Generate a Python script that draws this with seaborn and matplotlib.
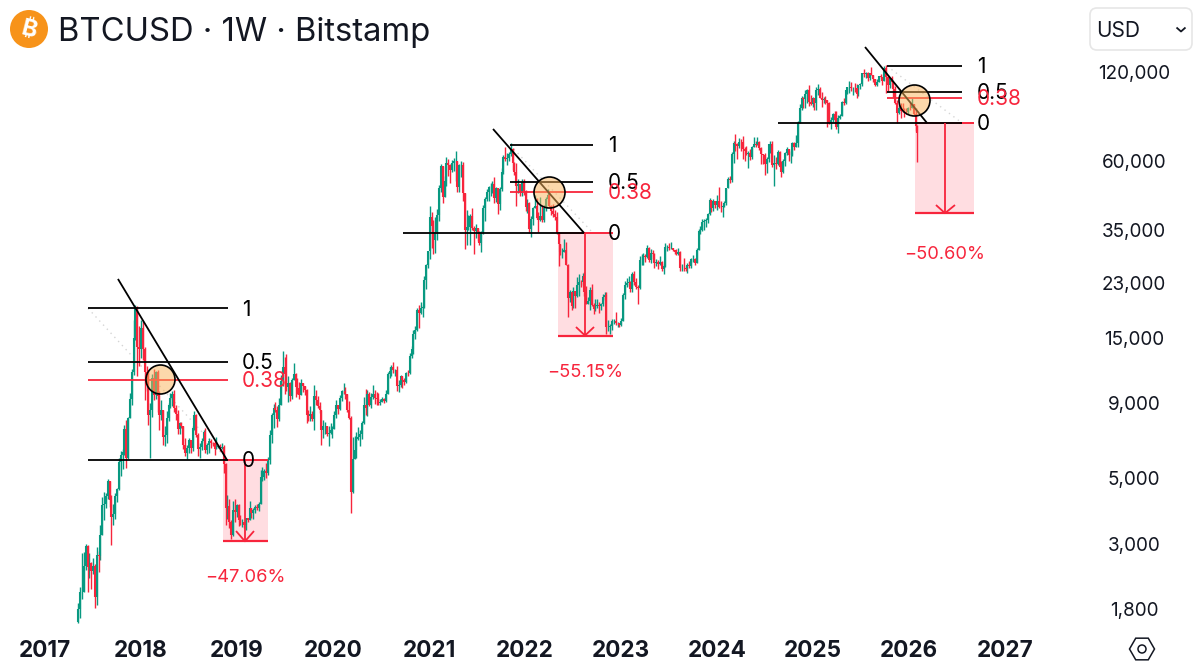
#!/usr/bin/env python3
# BTCUSD weekly candles with three fib / drawdown setups
import numpy as np
import pandas as pd
import matplotlib.pyplot as plt
import seaborn as sns
from matplotlib.patches import Circle, FancyBboxPatch, RegularPolygon

# weekly candles, first week starts 2017-05-08, open = previous close
first_week = "2017-05-08"
first_open = 1630

closes_2017 = [1800, 2050, 2050, 2510, 2950, 2500, 2580, 2430, 2510, 1980, 2750, 2730, 3220, 4060, 4080, 4340, 4910,
               4220, 3700, 3780, 4370, 4600, 5680, 6010, 6130, 7380, 5850, 8000, 9300, 11500, 15000, 19100, 14000, 13800]
highs_2017 = [1880, 2130, 2790, 2800, 2990, 2980, 2780, 2600, 2690, 2550, 2930, 2840, 3480, 4330, 4480, 4450, 4980,
              4700, 4400, 4100, 4470, 4620, 5850, 6180, 6300, 7600, 7900, 8100, 9750, 11800, 17200, 19400, 19300, 16500]
lows_2017 = [1610, 1680, 1950, 2100, 2450, 2050, 2300, 2100, 2370, 1820, 1850, 2400, 2640, 3200, 3600, 3950, 4250,
             4000, 2970, 3470, 3650, 4150, 4550, 5100, 5380, 6000, 5400, 5820, 8000, 8900, 11200, 14800, 11100, 12000]

closes_2018 = [16200, 13700, 11500, 11100, 8200, 8550, 11000, 9600, 11500, 9500, 8200, 8500, 6900,
               7000, 8000, 8850, 9400, 9700, 8700, 8250, 7350, 7700, 7500, 6500, 6100, 6350,
               6750, 6350, 7400, 8200, 7000, 6300, 6400, 6700, 7200, 6250, 6500, 6700, 6600,
               6580, 6300, 6400, 6420, 6350, 6380, 5600, 3950, 4030, 3550, 3220, 3900, 3830, 4050]
highs_2018 = [17200, 17100, 14000, 12000, 11700, 9000, 11300, 11800, 11600, 11700, 9900, 9200, 8500,
              7500, 8450, 9000, 9750, 9900, 9950, 8900, 8500, 7750, 7770, 7500, 6850, 6500,
              6830, 6770, 7500, 8480, 8250, 7150, 6600, 6880, 7300, 7400, 6600, 6850, 6800,
              6650, 6700, 6900, 6510, 6530, 6580, 6500, 5650, 4400, 4250, 3600, 4200, 4250, 4100]
lows_2018 = [12800, 12600, 9200, 9900, 7600, 5850, 8100, 9200, 9300, 8400, 7300, 7900, 6500,
             6450, 6600, 7800, 8700, 8800, 8400, 7900, 7100, 7050, 7400, 6300, 5950, 5800,
             6100, 6100, 6200, 7300, 6900, 5950, 5880, 6250, 6650, 6100, 6050, 6100, 6350,
             6450, 6000, 6350, 6350, 6200, 6300, 5200, 3480, 3650, 3400, 3120, 3190, 3550, 3700]

closes_2019 = [3620, 3550, 3550, 3460, 3660, 3620, 3950, 3820, 3900, 4000, 3980, 4090,
               5050, 5060, 5280, 5200, 5750, 7000, 8200, 8700, 8550, 7950, 8900, 10700, 11900,
               11300, 10200, 10500, 9500, 10800, 11300, 10200, 10100, 9600, 10500, 10300, 10000, 8200, 8150,
               8300, 7950, 9550, 9200, 8800, 8500, 7300, 7500, 7500, 7100, 7150, 7300, 7350]
highs_2019 = [4080, 3750, 3650, 3550, 3680, 3680, 4180, 3890, 3960, 4050, 4090, 4140,
              5340, 5470, 5390, 5650, 5900, 7300, 8350, 8950, 9100, 8800, 9400, 11200, 13550,
              12900, 13200, 11100, 10650, 11000, 12300, 11400, 10950, 10600, 10900, 10450, 10300, 10050, 8500,
              8800, 8450, 10350, 9950, 9550, 9100, 8450, 7880, 7750, 7500, 7500, 7690, 7500]
lows_2019 = [3450, 3480, 3430, 3380, 3350, 3560, 3600, 3680, 3650, 3800, 3900, 3880,
             4100, 4900, 4950, 5000, 5150, 5600, 6600, 7400, 8400, 7450, 7800, 8900, 10300,
             9700, 9900, 9050, 9150, 9300, 11000, 9450, 9700, 9300, 9600, 9850, 9600, 7700, 7800,
             7800, 7850, 7300, 8850, 8700, 8350, 6500, 6850, 7100, 6950, 6450, 7050, 6850]

closes_2020 = [8180, 8900, 8600, 9350, 9900, 9900, 9670, 8520, 8030, 4500, 5800, 6250, 6800,
               6900, 7100, 7700, 8900, 8700, 9700, 8900, 9450, 9650, 9400, 9300, 9000, 9100,
               9300, 9150, 9700, 11300, 11600, 11900, 11650, 11700, 10300, 10350, 11100, 10750, 10650,
               11380, 11370, 13000, 13750, 15500, 16000, 18700, 18200, 19000, 19150, 23500, 26500, 29500]
highs_2020 = [8470, 9200, 8800, 9590, 9950, 10500, 10250, 9700, 9180, 8170, 6900, 6950, 7200,
              7450, 7300, 7800, 9450, 10050, 9950, 9850, 9750, 10400, 10000, 9800, 9780, 9300,
              9450, 9350, 10000, 11450, 11950, 12100, 12450, 11750, 12050, 10800, 11200, 10950, 11000,
              11500, 11700, 13350, 14100, 15950, 16500, 18900, 19400, 19900, 19400, 24250, 26800, 29600]
lows_2020 = [7670, 8000, 8250, 8540, 9130, 9700, 9300, 8400, 7950, 3800, 4450, 5800, 5850,
             6750, 6450, 6800, 7650, 8200, 8150, 8800, 8650, 9300, 8950, 8900, 8850, 8900,
             9050, 9000, 9050, 9650, 11000, 11150, 11400, 11150, 9900, 9850, 10200, 10150, 10350,
             10530, 11150, 11300, 12850, 13200, 14850, 15800, 16200, 18100, 17600, 19000, 21900, 25900]

closes_2021 = [38500, 36000, 32200, 34300, 39200, 48600, 57500, 45200, 51000, 59000, 58000, 55800, 59000,
               60000, 60000, 49000, 57800, 58200, 46500, 34800, 35600, 35800, 39000, 35500, 34500, 35300,
               34200, 31500, 34200, 41500, 44600, 47000, 48800, 48900, 50000, 44900, 48300, 42700, 48200,
               54900, 61600, 61000, 61300, 63300, 65500, 58700, 54700, 49300, 50100, 46700, 50800, 47300]
highs_2021 = [42000, 40100, 37800, 38500, 41000, 49700, 58300, 57000, 53000, 61700, 61000, 58400, 60200,
              61300, 64900, 57000, 58500, 59600, 59500, 46700, 40900, 39300, 39400, 41300, 36000, 36600,
              35100, 34600, 34500, 42400, 45300, 48100, 49300, 50500, 51000, 52900, 48800, 45300, 49000,
              56500, 62900, 67000, 63700, 64300, 69000, 66400, 59400, 59000, 51900, 49500, 51800, 52100]
lows_2021 = [27700, 30300, 28800, 29200, 32300, 37400, 47000, 43000, 45000, 49300, 53300, 50400, 54900,
             55500, 51000, 47000, 47000, 52900, 43800, 30000, 31100, 34800, 31000, 34800, 28800, 32700,
             32100, 31000, 29300, 33900, 37300, 43800, 43900, 45500, 46700, 43000, 43400, 39600, 40800,
             47200, 54100, 59700, 58000, 59800, 62400, 55600, 53500, 42000, 46700, 45500, 45500, 45700]

closes_2022 = [41900, 43100, 35100, 37900, 41500, 42100, 38400, 37700, 38800, 37800, 41300, 44500, 45800,
               42200, 40400, 39500, 38500, 34100, 31300, 29400, 29400, 29900, 26600, 20500, 21500, 19300,
               21600, 20800, 22600, 23300, 23200, 24300, 21500, 19600, 20000, 21800, 19400, 18800, 19300,
               19400, 19300, 19600, 20600, 20900, 16300, 16300, 16400, 17100, 17100, 16800, 16800, 16600]
highs_2022 = [47500, 44500, 43500, 38900, 41900, 45800, 44700, 40300, 45300, 42500, 42300, 45100, 48200,
              47100, 42400, 42900, 40800, 40000, 34200, 31300, 30200, 32400, 31700, 26800, 21800, 21500,
              22400, 21000, 24200, 24700, 23500, 25000, 25200, 22500, 20600, 22400, 22800, 19700, 20300,
              20400, 19900, 19700, 21100, 21400, 21500, 17200, 16700, 17400, 17400, 18400, 17000, 16900]
lows_2022 = [40600, 39700, 34000, 32900, 36200, 41700, 38000, 34300, 37500, 37100, 37200, 40500, 44900,
             41900, 39200, 38600, 37700, 33700, 26300, 28600, 28000, 29300, 26600, 17600, 19900, 18700,
             19000, 18900, 20700, 20800, 22400, 22700, 20800, 19500, 19500, 18600, 19300, 18100, 18500,
             19000, 18200, 18700, 19300, 20100, 15500, 15800, 15500, 16000, 16700, 16600, 16300, 16300]

closes_2023 = [17100, 20900, 22700, 23000, 23300, 21900, 24700, 23200, 22400, 22100, 27500, 27500, 28500,
               28300, 30300, 27600, 29200, 28900, 26900, 27100, 26800, 27100, 25800, 26300, 30500, 30600,
               30200, 30300, 29800, 29400, 29000, 29300, 26000, 26000, 25900, 25800, 26600, 26300, 27900,
               27900, 27000, 29900, 34500, 35000, 37000, 37400, 37800, 39400, 44000, 41400, 43700, 42300]
highs_2023 = [17500, 21300, 23400, 23900, 24300, 23400, 25200, 25300, 23900, 22600, 28500, 28900, 29200,
              28800, 31000, 30500, 30000, 29800, 29100, 27700, 27500, 28400, 27400, 26800, 31400, 31000,
              31500, 31800, 30300, 29900, 30000, 30200, 29700, 26800, 28100, 26400, 27000, 27400, 28000,
              28600, 28000, 30300, 35100, 35900, 38000, 37900, 38400, 39800, 44700, 43400, 44300, 43800]
lows_2023 = [16500, 17100, 20400, 22300, 22500, 21400, 21500, 22700, 21900, 19500, 21900, 26600, 26500,
             27200, 28000, 27100, 26900, 27700, 25900, 26300, 25800, 26500, 25400, 24800, 26200, 29500,
             29800, 30000, 29500, 29000, 28600, 28700, 25400, 25300, 25300, 25400, 24900, 26000, 26000,
             27200, 26500, 26900, 29800, 33900, 34600, 35000, 35700, 36900, 39100, 40200, 40500, 41400]

closes_2024 = [43900, 41700, 41600, 42000, 43000, 48300, 52100, 51700, 63100, 68900, 68400, 67200, 69600,
               69400, 65600, 64900, 63400, 63800, 61500, 66900, 68500, 67700, 69600, 66200, 63200, 62800,
               58300, 60800, 68100, 68200, 58100, 58700, 58400, 64200, 57300, 54800, 59900, 63500, 65800, 62800,
               62800, 69000, 67000, 68700, 80500, 90600, 97700, 97200, 101200, 104500, 95200, 93700, 98300]
highs_2024 = [45900, 49000, 43600, 42300, 43900, 48600, 52800, 53000, 64000, 70100, 73800, 68900, 71500,
              71300, 72700, 66800, 67200, 64700, 65500, 67500, 71900, 70000, 71900, 70200, 66900, 63200,
              63800, 61800, 68400, 69800, 70000, 62700, 61800, 65000, 64500, 59800, 60700, 64100, 66500, 65600,
              64500, 69400, 69500, 73600, 81500, 93500, 99800, 98900, 104000, 105200, 108300, 99900, 99000]
lows_2024 = [40700, 41400, 40200, 38500, 41800, 42400, 48400, 50500, 50900, 59000, 64600, 60800, 66400,
             64500, 60700, 59600, 62800, 56500, 60200, 60800, 66600, 66700, 68400, 65100, 58400, 58500,
             53500, 54300, 59400, 63500, 57200, 49100, 56100, 57800, 57100, 52600, 54600, 57500, 62700, 59900,
             58900, 62000, 65000, 66800, 66800, 80300, 89400, 90800, 90500, 94100, 92200, 92500, 91300]

closes_2025 = [94500, 104500, 104800, 97700, 96500, 97500, 96200, 94200, 80800, 82600, 86100, 82400, 78300,
               83700, 85200, 94700, 94300, 104200, 106500, 107000, 105600, 105600, 105500, 100900, 108300, 109200,
               119000, 117900, 119400, 114200, 119300, 117400, 113500, 108400, 111200, 116000, 115300, 112100, 123500,
               115000, 108600, 114500, 110600, 104700, 94300, 86900, 90300, 88400, 88300, 88100, 87700, 90800]
highs_2025 = [95900, 106400, 109300, 106400, 102500, 98800, 99500, 96500, 95000, 84500, 87400, 88500, 88500,
              86000, 86500, 95800, 97900, 104300, 106700, 111900, 110700, 106800, 110500, 108900, 108500, 110500,
              119500, 123200, 120200, 119800, 119400, 124500, 117600, 113400, 113300, 116700, 117900, 113400, 125700,
              126300, 115900, 114700, 116300, 111000, 107500, 96500, 93000, 94100, 94500, 90500, 90500, 91000]
lows_2025 = [89200, 89300, 100400, 97700, 91200, 94100, 93400, 78200, 80000, 76600, 81200, 81600, 77000,
             74500, 83100, 85200, 92900, 93400, 100800, 102000, 103100, 100400, 102700, 98200, 99800, 105100,
             107500, 115700, 114700, 112000, 112600, 116800, 110700, 107300, 107300, 110600, 114400, 108600, 111600,
             102000, 103500, 106200, 106300, 98900, 93100, 80600, 86300, 83800, 87500, 84400, 86400, 86600]

closes_2026 = [90500, 93500, 86500, 78700, 74400]
highs_2026 = [94800, 97900, 93000, 90500, 79000]
lows_2026 = [89300, 92000, 86000, 75700, 59500]

# price axis and years
price_ticks = [1800, 3000, 5000, 9000, 15000, 23000, 35000, 60000, 120000]
year_ticks = list(range(2017, 2028))

# drawdown setups, dates in decimal years
levels_a = [18900, 12420, 10790, 5770]
levels_b = [67800, 50760, 46940, 34070]
levels_c = [125760, 102600, 97930, 80520]
level_names = ["1", "0.5", "0.38", "0"]

GREEN = "#089981"
RED = "#F7253C"
PINK = "#FFDDE1"


def pixel_limits():
    """axis limits so the year and price scales land where they do in the chart"""
    px_per_year = 96.0
    px_per_decade = 294.4
    left, right, top, bottom = 0, 1095, 0, 636
    xlim = (2018 + (left - 141) / px_per_year, 2018 + (right - 141) / px_per_year)
    ylim = (120000 * 10 ** (-(bottom - 72) / px_per_decade), 120000 * 10 ** (-(top - 72) / px_per_decade))
    return (left, right, top, bottom), xlim, ylim


def build_candles():
    closes = np.array(closes_2017 + closes_2018 + closes_2019 + closes_2020 + closes_2021
                      + closes_2022 + closes_2023 + closes_2024 + closes_2025 + closes_2026, dtype=float)
    highs = np.array(highs_2017 + highs_2018 + highs_2019 + highs_2020 + highs_2021
                     + highs_2022 + highs_2023 + highs_2024 + highs_2025 + highs_2026, dtype=float)
    lows = np.array(lows_2017 + lows_2018 + lows_2019 + lows_2020 + lows_2021
                    + lows_2022 + lows_2023 + lows_2024 + lows_2025 + lows_2026, dtype=float)
    opens = np.r_[first_open, closes[:-1]]
    dates = pd.date_range(first_week, periods=len(closes), freq="7D")
    df = pd.DataFrame({
        "week": np.arange(len(closes)),
        "x": dates.year + (dates.dayofyear - 1) / 365.25,
        "open": opens,
        "close": closes,
        "high": np.maximum(highs, np.maximum(opens, closes)),
        "low": np.minimum(lows, np.minimum(opens, closes)),
    })
    df["dir"] = np.where(df["close"] >= df["open"], "up", "down")
    return df


def draw_candles(ax, df):
    palette = {"up": GREEN, "down": RED}
    wicks = df.melt(id_vars=["week", "x", "dir"], value_vars=["low", "high"], value_name="price")
    bodies = df.melt(id_vars=["week", "x", "dir"], value_vars=["open", "close"], value_name="price")
    sns.lineplot(data=wicks, x="x", y="price", units="week", estimator=None, hue="dir", palette=palette,
                 linewidth=1.0, legend=False, ax=ax, zorder=3)
    sns.lineplot(data=bodies, x="x", y="price", units="week", estimator=None, hue="dir", palette=palette,
                 linewidth=1.5, legend=False, ax=ax, zorder=3)


def draw_setup(ax, levels, x0, x1, zero_x1, box, arrow_x, head, bottom, diag, circle, label_x, pct, pct_price, s,
               long_x0=None):
    top1, mid, red, zero = levels
    # pink box under the candles
    ax.fill_between(box, [bottom, bottom], [zero, zero], color=PINK, lw=0, zorder=1)
    # faint dotted diagonal between the first and last level
    ax.plot([x0, x1], [top1, zero], color="#d5d5d5", lw=1.0, ls=(0, (1, 3)), zorder=2)
    for price in (top1, mid):
        ax.plot([x0, x1], [price, price], color="black", lw=1.3, zorder=5)
    ax.plot([x0, x1], [red, red], color=RED, lw=1.3, zorder=5)
    ax.plot(box, [zero, zero], color=RED, lw=1.4, zorder=5)
    ax.plot([long_x0 if long_x0 else x0, zero_x1], [zero, zero], color="black", lw=1.3, zorder=6)
    ax.plot(box, [bottom, bottom], color=RED, lw=1.6, zorder=6)
    # arrow down to the target
    ax.plot([arrow_x, arrow_x], [zero, bottom], color=RED, lw=1.3, zorder=6)
    ax.plot([head[0], arrow_x, head[1]], [head[2], bottom, head[2]], color=RED, lw=1.3, zorder=6)
    # trend line and circle on the 0.38 level
    ax.plot(diag[:2], diag[2:], color="black", lw=1.3, zorder=5)
    ax.scatter([circle[0]], [circle[1]], s=s, facecolor=(0.98, 0.70, 0.35, 0.5), edgecolor="black",
               linewidth=1.2, zorder=7)
    offsets = [-1, -1, -1, -1]
    for price, name, off in zip(levels, level_names, offsets):
        ax.annotate(name, (label_x, price), xytext=(0, off), textcoords="offset points", ha="left", va="center",
                    fontsize=15, color=RED if name == "0.38" else "black", zorder=8)
    ax.text(arrow_x, pct_price, pct, ha="center", va="center", fontsize=13.2, color=RED, zorder=8)


def draw_header(fig):
    ui = fig.add_axes([0, 0, 1, 1], facecolor="none")
    ui.set_xlim(0, 1200)
    ui.set_ylim(672, 0)
    ui.axis("off")
    ui.add_patch(Circle((29, 29), 19, color="#F7931A", lw=0))
    ui.text(29, 30, "\u20bf", color="white", fontsize=17, fontweight="bold", rotation=-14,
            ha="center", va="center", family=["Inter", "Noto Sans", "Roboto", "Open Sans", "DejaVu Sans"])
    ui.text(58, 33, "BTCUSD \u00b7 1W \u00b7 Bitstamp", fontsize=23.6, color="#131722", ha="left", va="center")
    ui.add_patch(FancyBboxPatch((1090, 8), 102, 42, boxstyle="round,pad=0,rounding_size=7",
                                facecolor="white", edgecolor="#e6e6e6", lw=1.2))
    ui.text(1096, 31, "USD", fontsize=15, color="#131722", ha="left", va="center")
    ui.plot([1176.5, 1181, 1185.5], [27.5, 31.5, 27.5], color="#131722", lw=1.3)
    ui.add_patch(RegularPolygon((1142, 649), 6, radius=12.5, orientation=np.pi / 2,
                                facecolor="none", edgecolor="#131722", lw=1.1))
    ui.add_patch(Circle((1142, 649), 4, facecolor="none", edgecolor="#131722", lw=1.1))


def main():
    sns.set_theme(style="white")
    plt.rcParams["font.family"] = ["Inter", "DejaVu Sans"]
    plt.rcParams["lines.solid_capstyle"] = "butt"

    fig = plt.figure(figsize=(12, 6.72), dpi=100, facecolor="white")
    (left, right, top, bottom), xlim, ylim = pixel_limits()
    ax = fig.add_axes([left / 1200, 1 - bottom / 672, (right - left) / 1200, (bottom - top) / 672])
    ax.set_yscale("log")

    df = build_candles()
    draw_candles(ax, df)

    draw_setup(ax, levels_a, 2017.448, 2018.906, 2018.906, (2018.854, 2019.323), 2019.083,
               (2018.99, 2019.177, 3311), 3055, (2017.76, 2018.896, 23780, 5770), (2018.198, 10880),
               2019.052, "\u221247.06%", 2310, 436)
    draw_setup(ax, levels_b, 2021.844, 2022.708, 2022.615, (2022.344, 2022.917), 2022.625,
               (2022.531, 2022.719, 16330), 15280, (2021.667, 2022.615, 76850, 34070), (2022.25, 46940),
               2022.865, "\u221255.15%", 11400, 498, long_x0=2020.729)
    draw_setup(ax, levels_c, 2025.771, 2026.552, 2026.552, (2026.0625, 2026.677), 2026.375,
               (2026.281, 2026.479, 42400), 39780, (2025.542, 2026.188, 145900, 80520), (2026.052, 96380),
               2026.708, "\u221250.60%", 28900, 498, long_x0=2024.635)

    ax.set_xlim(*xlim)
    ax.set_ylim(*ylim)
    ax.set_xlabel("")
    ax.set_ylabel("")
    ax.set_xticks(year_ticks)
    ax.set_xticklabels([str(y) for y in year_ticks], fontsize=16.2, fontweight="bold", color="#131722")
    ax.yaxis.tick_right()
    ax.minorticks_off()
    ax.set_yticks(price_ticks)
    ax.set_yticklabels([f"{p:,}" for p in price_ticks], fontsize=13.6, color="#131722", ha="center")
    ax.tick_params(axis="y", length=0, pad=28)
    ax.tick_params(axis="x", length=0, pad=3)
    sns.despine(ax=ax, left=True, bottom=True)
    ax.patch.set_alpha(0)

    draw_header(fig)
    fig.savefig("out.png", dpi=100)


if __name__ == "__main__":
    main()
